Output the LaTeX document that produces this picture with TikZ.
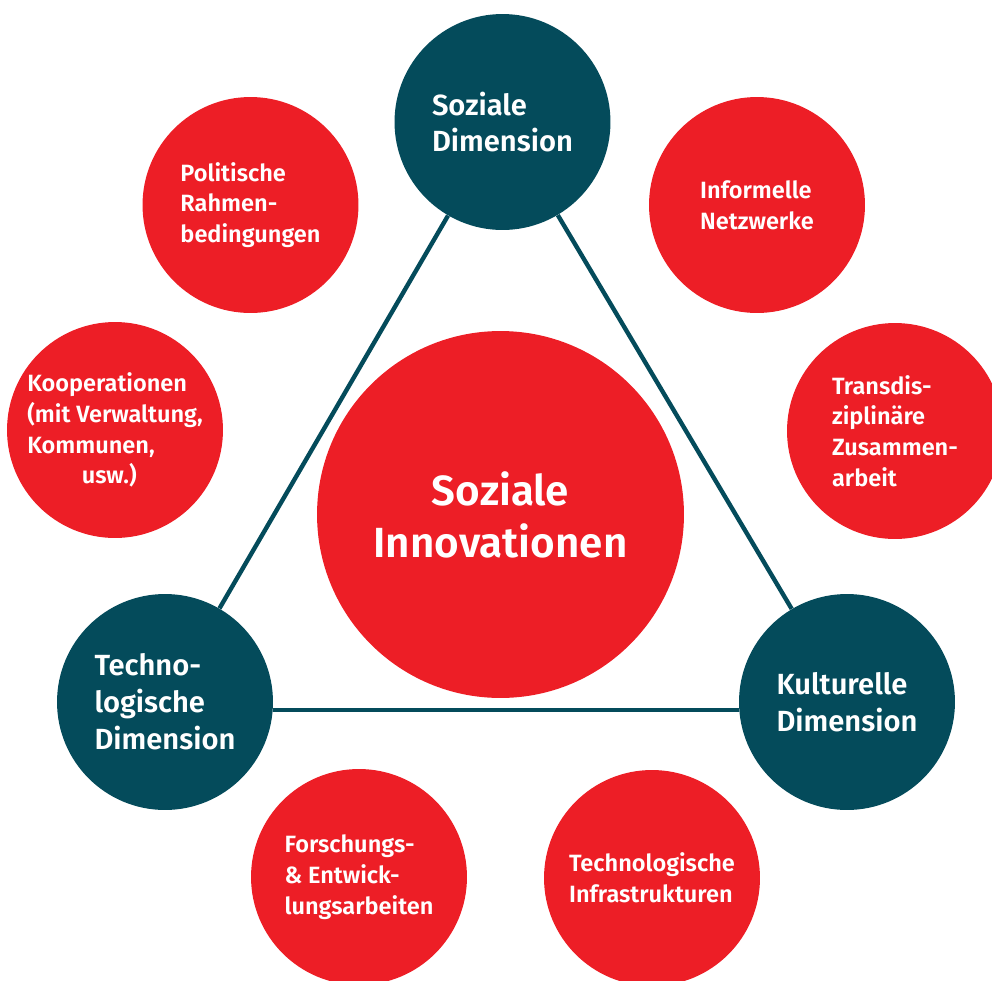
\documentclass[tikz,border=0pt]{standalone}
\usepackage{fontspec}
\IfFontExistsTF{Fira Sans SemiBold}
  {\setmainfont{Fira Sans}[BoldFont={Fira Sans SemiBold}]}
  {\setmainfont{Fira Sans}}
\usetikzlibrary{calc}
\definecolor{innored}{RGB}{237,30,38}
\definecolor{dimteal}{RGB}{4,75,91}

\begin{document}
\begin{tikzpicture}[x=0.02cm,y=-0.02cm,
  dim/.style={circle,fill=dimteal,text=white,minimum size=4.32cm,inner sep=0pt,
    align=left,font=\bfseries\fontsize{16.6}{21}\selectfont},
  topic/.style={circle,fill=innored,text=white,minimum size=4.32cm,inner sep=0pt,
    align=left,font=\bfseries\fontsize{13.4}{17.5}\selectfont},
  link/.style={draw=dimteal,line width=2.5pt}]
  \clip (0,0) rectangle (992,981);
  \coordinate (c) at (500.5,514.5);
  \node[circle,fill=innored,text=white,minimum size=7.34cm,inner sep=0pt,align=center,
    font=\bfseries\fontsize{24}{29.6}\selectfont] (innov) at (c) {Soziale\\Innovationen};
  \node[dim] (soz) at (502.5,122) {Soziale\\Dimension};
  \node[dim] (tech) at (165,702) {Techno-\\logische\\Dimension};
  \node[dim] (kult) at (847,702) {Kulturelle\\Dimension};
  \draw[link] (soz) -- (tech);
  \draw[link] (soz) -- (kult);
  \draw[link] ([yshift=-0.16cm]tech.east) -- ([yshift=-0.16cm]kult.west);
  \node[topic] (polit) at (250.5,205) {Politische\\Rahmen-\\bedingungen};
  \node[topic] (netz) at (757,205) {Informelle\\Netzwerke};
  \node[topic] (koop) at (115,430) {Kooperationen\\(mit Verwaltung,\\Kommunen,\\\hspace*{31pt}usw.)};
  \node[topic] (trans) at (895,431) {Transdis-\\ziplinäre\\Zusammen-\\arbeit};
  \node[topic] (forsch) at (359,877) {Forschungs-\\\& Entwick-\\lungsarbeiten};
  \node[topic] (infra) at (652,878) {Technologische\\Infrastrukturen};
\end{tikzpicture}
\end{document}
